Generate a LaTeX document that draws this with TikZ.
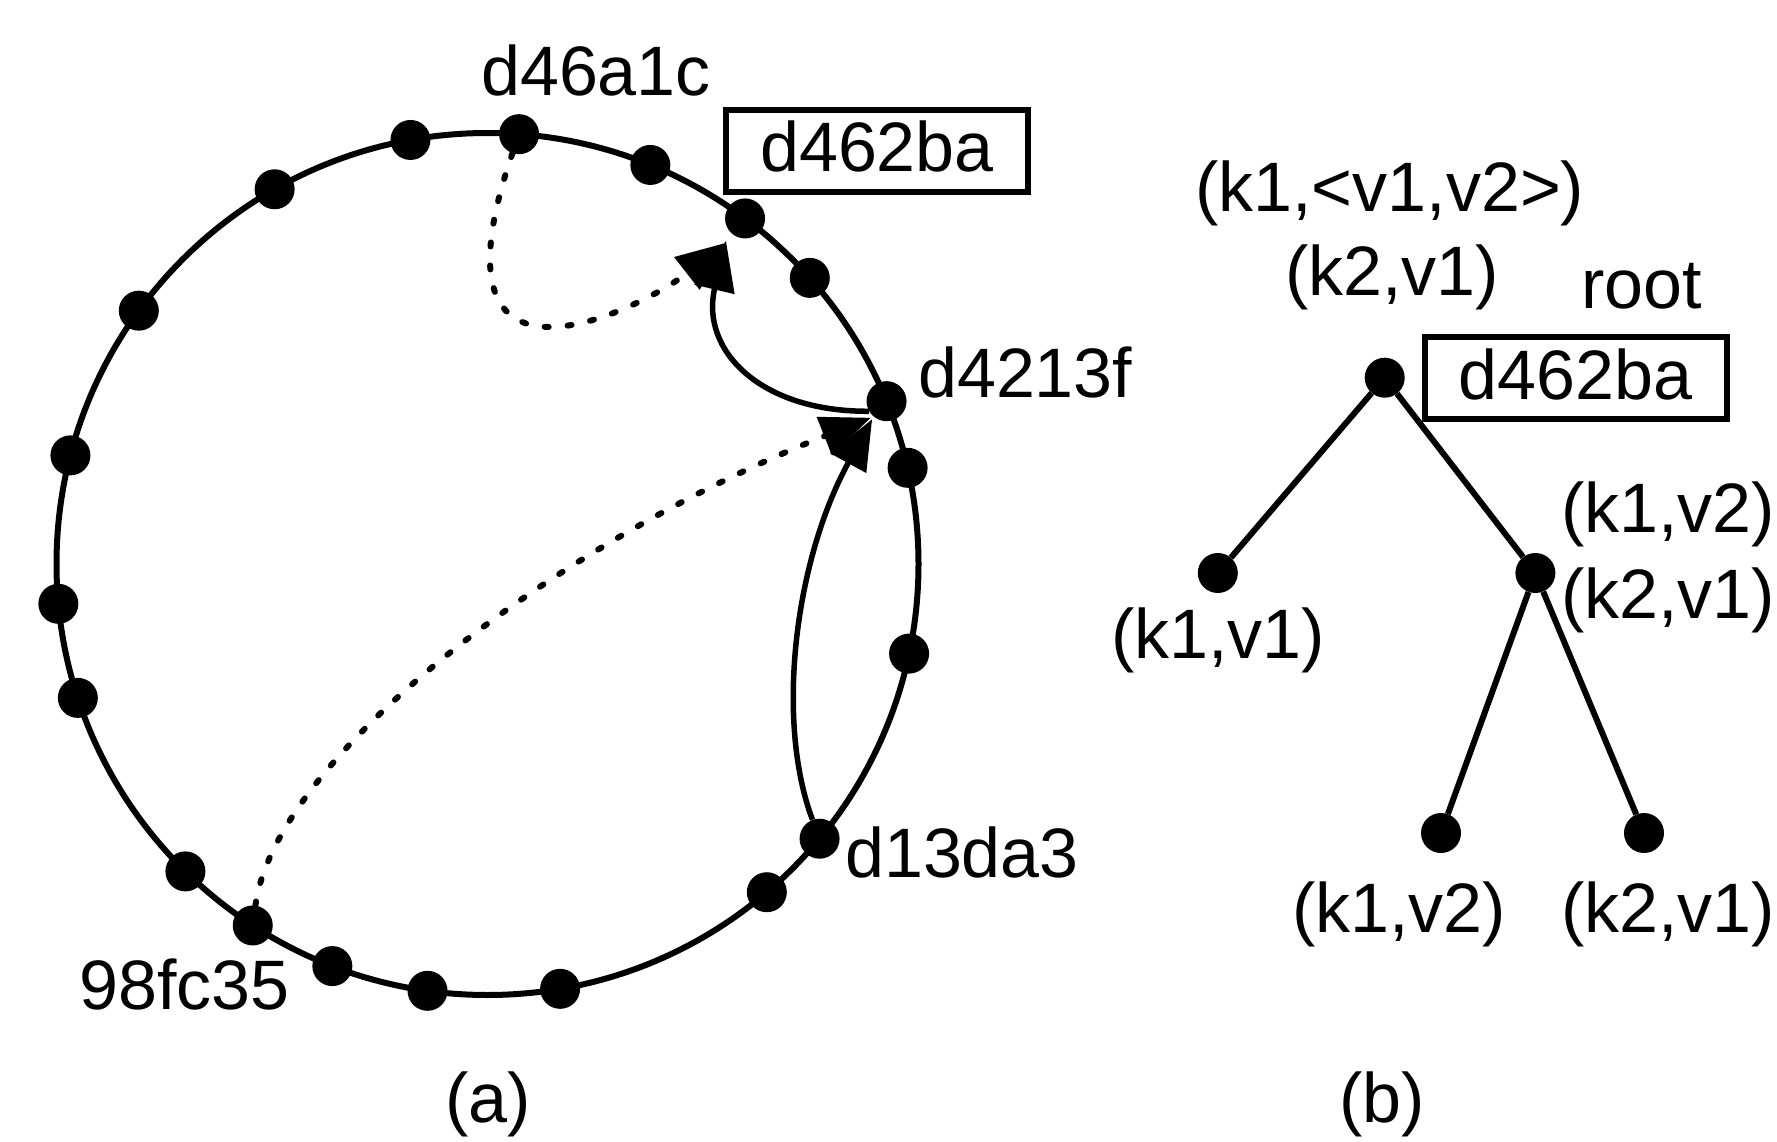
\documentclass[tikz,border=0pt]{standalone}
\usepackage{fontspec}
\setmainfont{Liberation Sans}
\usetikzlibrary{arrows.meta,calc}
\begin{document}
\begin{tikzpicture}[x=1pt,y=-1pt,
  dot/.style={circle,fill=black,inner sep=0pt,minimum size=40pt},
  lbl/.style={anchor=base west,inner sep=0pt,font=\fontsize{70}{84}\selectfont},
  keybox/.style={draw,line width=6pt,minimum width=302pt,minimum height=82pt,inner sep=0pt,
                 text height=50pt,text depth=8pt,font=\fontsize{70}{84}\selectfont},
  ring/.style={line width=6pt},
  edge/.style={line width=6pt},
  hop/.style={line width=5.5pt,-{Triangle[length=50pt,width=40pt]}},
  lookup/.style={hop,dash pattern=on 4pt off 19pt,line cap=round,line width=6pt},
]
\path[use as bounding box,fill=white] (0,0) rectangle (1777,1142);

% ---------- (a) ring ----------
\coordinate (C) at (487.5,564);
\draw[ring] (C) circle[radius=431pt];
\foreach \a [count=\i] in {85.8,100.3,119.6,144.0,165.4,185.3,198.1,225.5,237.0,248.9,
                           262.0,279.7,310.4,320.4,348.0,12.9,22.2,41.6,53.3,67.8}
  \node[dot] (c\i) at ($(C)+({431*cos(\a)},{-431*sin(\a)})$) {};

\node[lbl] (l1) at (481,96) {d46a1c};
\node[keybox] (k1) at (877,151) {d462ba};
\node[lbl] (l17) at (918,397) {d4213f};
\node[lbl] (l14) at (845,877) {d13da3};
\node[lbl] (l9) at (79,1009) {98fc35};
\node[lbl,anchor=base] (capa) at (488,1122) {(a)};

% routing hops
\draw[lookup,shorten >=11pt] (c1) .. controls (420,420) and (640,310) .. (c19.240);
\draw[hop,shorten >=11pt] (c17.210) .. controls (760,412) and (700,350) .. (c19.215);
\draw[lookup,shorten >=3pt] (c9) .. controls (275,760) and (550,545) .. (c17.230);
\draw[hop,shorten >=3pt] (c14) .. controls (775,720) and (795,560) .. (c17.230);

% ---------- (b) tree ----------
\node[dot] (r) at (1384.7,377.7) {};
\node[dot] (tl) at (1217.8,573) {};
\node[dot] (tr) at (1535.4,573) {};
\node[dot] (tll) at (1441,833) {};
\node[dot] (trr) at (1644,833) {};
\draw[edge] (r) -- (tl);
\draw[edge] (r) -- (tr);
\draw[edge] (tr) -- (tll);
\draw[edge] (tr) -- (trr);

\node[lbl] (t1) at (1195,211.7) {(k1,<v1,v2>)};
\node[lbl] (t2) at (1285,295) {(k2,v1)};
\node[lbl] (troot) at (1581,308) {root};
\node[keybox] (k2) at (1575.5,378) {d462ba};
\node[lbl] (t3) at (1561,532) {(k1,v2)};
\node[lbl] (t4) at (1561,618) {(k2,v1)};
\node[lbl] (t5) at (1111,658) {(k1,v1)};
\node[lbl] (t6) at (1292,932) {(k1,v2)};
\node[lbl] (t7) at (1561,932) {(k2,v1)};
\node[lbl,anchor=base] (capb) at (1382,1122) {(b)};
\end{tikzpicture}
\end{document}
